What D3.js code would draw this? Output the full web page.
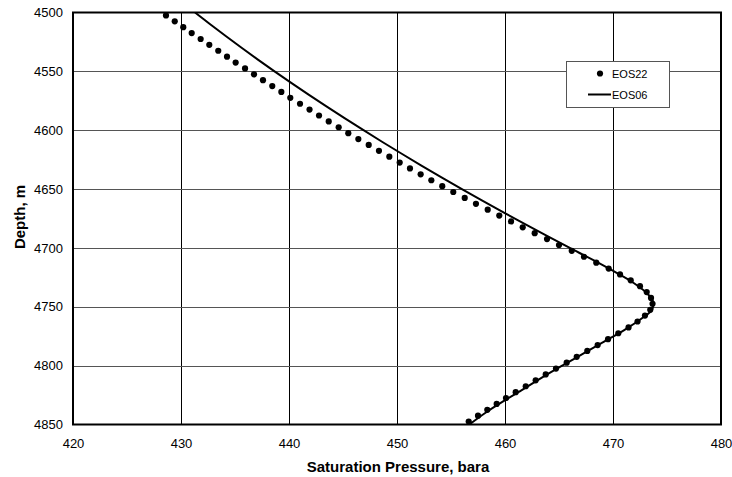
<!DOCTYPE html>
<html>
<head>
<meta charset="utf-8">
<script src="https://cdn.jsdelivr.net/npm/d3@7"></script>
<style>
  html, body { margin: 0; padding: 0; background: #fff; }
  svg { display: block; font-family: "Liberation Sans", Arial, sans-serif; }
</style>
</head>
<body>
<svg id="chart" width="732" height="477"></svg>
<script>
// Saturation pressure vs depth, two equation-of-state models
const xTicks = [420, 430, 440, 450, 460, 470, 480];
const yTicks = [4500, 4550, 4600, 4650, 4700, 4750, 4800, 4850];

// EOS22: sampled every 5 m
const eos22Depth = d3.range(4502.5, 4850, 5);
const eos22Pressure = [
  428.61, 429.42, 430.21, 430.99, 431.82, 432.62, 433.45, 434.26, 435.06, 435.93,
  436.76, 437.59, 438.45, 439.29, 440.12, 441.02, 441.90, 442.78, 443.68, 444.60,
  445.49, 446.42, 447.38, 448.33, 449.29, 450.25, 451.20, 452.19, 453.18, 454.19,
  455.21, 456.27, 457.31, 458.40, 459.47, 460.56, 461.64, 462.75, 463.89, 465.00,
  466.18, 467.31, 468.45, 469.60, 470.65, 471.64, 472.50, 473.12, 473.52, 473.66,
  473.45, 472.96, 472.27, 471.44, 470.49, 469.54, 468.58, 467.62, 466.64, 465.71,
  464.72, 463.77, 462.84, 461.92, 460.99, 460.09, 459.23, 458.36, 457.50, 456.64
];

// EOS06: continuous profile
const eos06Depth = [
  4500, 4510, 4520, 4530, 4540, 4550, 4560, 4570, 4580, 4590,
  4600, 4610, 4620, 4630, 4640, 4650, 4660, 4670, 4680, 4690,
  4700, 4710, 4720, 4730, 4740, 4747, 4752, 4760, 4770, 4780,
  4790, 4800, 4810, 4820, 4830, 4840, 4850
];
const eos06Pressure = [
  431.30, 432.70, 434.14, 435.61, 437.12, 438.66, 440.24, 441.85, 443.50, 445.18,
  446.90, 448.65, 450.44, 452.26, 454.12, 456.01, 457.94, 459.90, 461.90, 463.93,
  466.00, 468.10, 470.10, 471.95, 473.30, 473.75, 473.65, 472.65, 471.00, 469.10,
  467.20, 465.30, 463.45, 461.70, 459.90, 458.20, 456.70
];

const legendLabels = ["EOS22", "EOS06"];

const svg = d3.select("#chart");
const margin = { left: 73, right: 11, top: 12.5, bottom: 52.5 };
const W = 732, H = 477;

const x = d3.scaleLinear().domain([420, 480]).range([margin.left, W - margin.right]);
const y = d3.scaleLinear().domain([4500, 4850]).range([margin.top, H - margin.bottom]);

// gridlines
svg.append("g").selectAll("line").data(xTicks.slice(1, -1)).join("line")
  .attr("x1", d => Math.round(x(d)) + 0.5).attr("x2", d => Math.round(x(d)) + 0.5)
  .attr("y1", y(4500)).attr("y2", y(4850))
  .attr("stroke", "#000").attr("stroke-width", 1);
svg.append("g").selectAll("line").data(yTicks.slice(1, -1)).join("line")
  .attr("x1", x(420)).attr("x2", x(480))
  .attr("y1", d => Math.round(y(d)) + 0.5).attr("y2", d => Math.round(y(d)) + 0.5)
  .attr("stroke", "#555").attr("stroke-width", 1);

// clip area for the data
svg.append("clipPath").attr("id", "plot-clip").append("rect")
  .attr("x", x(420)).attr("y", y(4500))
  .attr("width", x(480) - x(420)).attr("height", y(4850) - y(4500));

const plot = svg.append("g").attr("clip-path", "url(#plot-clip)");

// EOS06 line
const line = d3.line()
  .x(d => x(d[1])).y(d => y(d[0]))
  .curve(d3.curveMonotoneY);
plot.append("path")
  .datum(eos06Depth.map((d, i) => [d, eos06Pressure[i]]))
  .attr("d", line)
  .attr("fill", "none").attr("stroke", "#000").attr("stroke-width", 2);

// EOS22 dots
plot.append("g").selectAll("circle")
  .data(eos22Depth.map((d, i) => [d, eos22Pressure[i]]))
  .join("circle")
  .attr("cx", d => x(d[1])).attr("cy", d => y(d[0])).attr("r", 3.1)
  .attr("fill", "#000");

// plot frame
svg.append("rect")
  .attr("x", x(420)).attr("y", y(4500))
  .attr("width", x(480) - x(420)).attr("height", y(4850) - y(4500))
  .attr("fill", "none").attr("stroke", "#000").attr("stroke-width", 2);

// axes (labels only)
const xAxis = d3.axisBottom(x).tickValues(xTicks).tickFormat(d3.format("d"))
  .tickSize(0).tickPadding(14);
const gx = svg.append("g").attr("transform", `translate(0,${y(4850)})`).call(xAxis);
gx.select(".domain").remove();
gx.selectAll("text").attr("font-size", 13).attr("font-family", "Liberation Sans, Arial, sans-serif").attr("fill", "#000");

const yAxis = d3.axisLeft(y).tickValues(yTicks).tickFormat(d3.format("d"))
  .tickSize(0).tickPadding(10);
const gy = svg.append("g").attr("transform", `translate(${x(420)},0)`).call(yAxis);
gy.select(".domain").remove();
gy.selectAll("text").attr("font-size", 13).attr("font-family", "Liberation Sans, Arial, sans-serif").attr("fill", "#000");

// axis titles
svg.append("text")
  .attr("x", 398).attr("y", 472)
  .attr("text-anchor", "middle").attr("font-size", 15).attr("font-weight", "bold")
  .text("Saturation Pressure, bara");
svg.append("text")
  .attr("transform", `translate(25,217) rotate(-90)`)
  .attr("text-anchor", "middle").attr("font-size", 15).attr("font-weight", "bold")
  .text("Depth, m");

// legend
const lg = svg.append("g");
lg.append("rect")
  .attr("x", 566.5).attr("y", 61.5).attr("width", 103).attr("height", 46)
  .attr("fill", "#fff").attr("stroke", "#555").attr("stroke-width", 1);
lg.append("circle").attr("cx", 600).attr("cy", 73.5).attr("r", 3.1).attr("fill", "#000");
lg.append("line").attr("x1", 588).attr("x2", 611).attr("y1", 94.5).attr("y2", 94.5)
  .attr("stroke", "#000").attr("stroke-width", 2);
lg.selectAll("text.lbl").data(legendLabels).join("text")
  .attr("class", "lbl")
  .attr("x", 612).attr("y", (d, i) => 77.5 + i * 21)
  .attr("font-size", 11).attr("fill", "#000")
  .text(d => d);
</script>
</body>
</html>
